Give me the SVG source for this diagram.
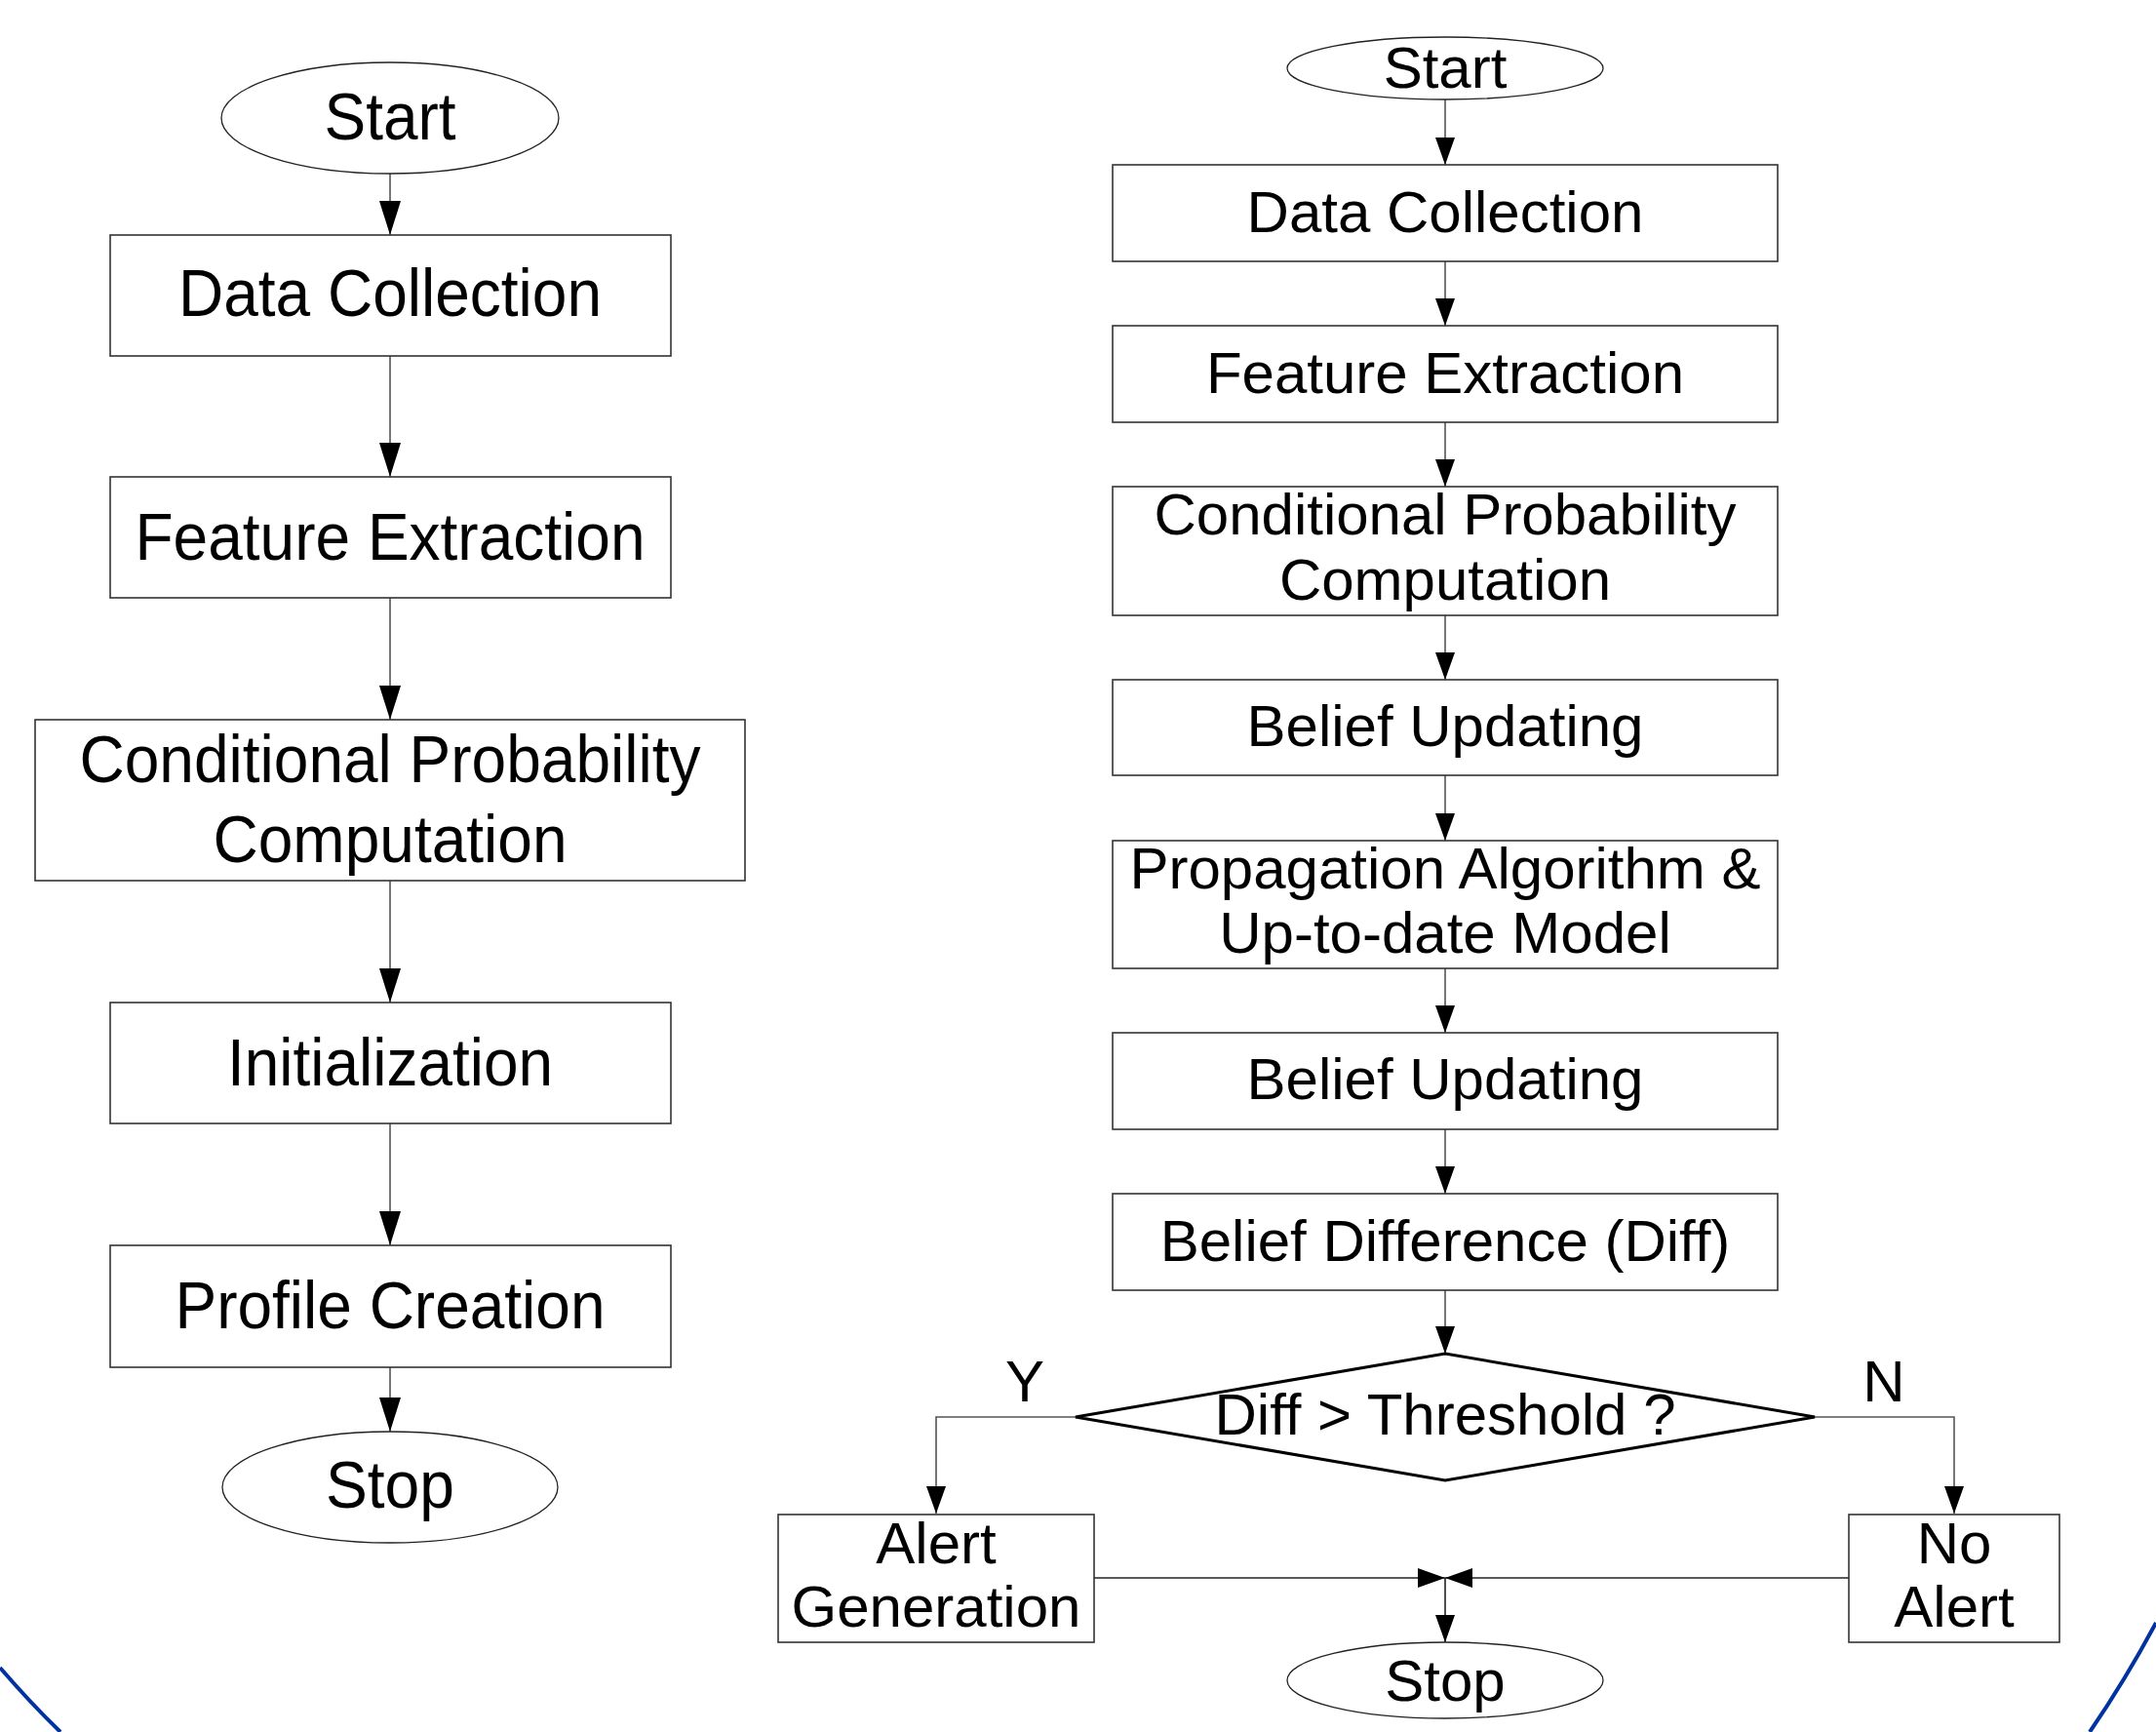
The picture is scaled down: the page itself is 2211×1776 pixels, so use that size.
<svg xmlns="http://www.w3.org/2000/svg" width="2211" height="1776" viewBox="0 0 2211 1776">
<style>
.box{fill:#fff;stroke:#333;stroke-width:1.6}
.ell{fill:#fff;stroke:#222;stroke-width:1.3}
.dia{fill:#fff;stroke:#000;stroke-width:3}
.con{fill:none;stroke:#555;stroke-width:1.6}
.conk{fill:none;stroke:#222;stroke-width:1.6}
.tl{font-family:"Liberation Sans",Arial,sans-serif;font-size:68px;fill:#000;text-anchor:middle}
.tr{font-family:"Liberation Sans",Arial,sans-serif;font-size:60px;fill:#000;text-anchor:middle}
.arc{fill:none;stroke:#0033a0;stroke-width:4}
</style>
<defs>
<marker id="aL" markerUnits="userSpaceOnUse" markerWidth="35" markerHeight="22" refX="35" refY="11" orient="auto"><path d="M0,0 L35,11 L0,22 z" fill="#000"/></marker>
<marker id="aR" markerUnits="userSpaceOnUse" markerWidth="28" markerHeight="20" refX="28" refY="10" orient="auto"><path d="M0,0 L28,10 L0,20 z" fill="#000"/></marker>
</defs>
<rect width="2211" height="1776" fill="#fff"/>
<g id="decor">
<path class="arc" d="M0,1710 Q31,1746 62,1776"/>
<path class="arc" d="M2211,1664 Q2180,1722 2143,1776"/>
</g>
<g id="connectors">
<path class="con" d="M400,178 V241" marker-end="url(#aL)"/>
<path class="con" d="M400,365 V489" marker-end="url(#aL)"/>
<path class="con" d="M400,613 V738" marker-end="url(#aL)"/>
<path class="con" d="M400,903 V1028" marker-end="url(#aL)"/>
<path class="con" d="M400,1152 V1277" marker-end="url(#aL)"/>
<path class="con" d="M400,1402 V1468" marker-end="url(#aL)"/>
<path class="con" d="M1482,102 V169" marker-end="url(#aR)"/>
<path class="con" d="M1482,268 V334" marker-end="url(#aR)"/>
<path class="con" d="M1482,433 V499" marker-end="url(#aR)"/>
<path class="con" d="M1482,631 V697" marker-end="url(#aR)"/>
<path class="con" d="M1482,795 V862" marker-end="url(#aR)"/>
<path class="con" d="M1482,993 V1059" marker-end="url(#aR)"/>
<path class="con" d="M1482,1158 V1224" marker-end="url(#aR)"/>
<path class="con" d="M1482,1323 V1388" marker-end="url(#aR)"/>
<path class="con" d="M1103,1453 H960 V1552" marker-end="url(#aR)"/>
<path class="con" d="M1861,1453 H2004 V1552" marker-end="url(#aR)"/>
<path class="conk" d="M1122,1618 H1482" marker-end="url(#aR)"/>
<path class="conk" d="M1896,1618 H1482" marker-end="url(#aR)"/>
<path class="conk" d="M1482,1618 V1684" marker-end="url(#aR)"/>
<text class="tr" x="1051" y="1437">Y</text>
<text class="tr" x="1932" y="1437">N</text>
</g>
<g id="L_start"><ellipse class="ell" cx="400" cy="121" rx="173" ry="57"/><text class="tl" x="400" y="143" textLength="135" lengthAdjust="spacingAndGlyphs">Start</text></g>
<g id="L_data"><rect class="box" x="113" y="241" width="575" height="124"/><text class="tl" x="400" y="324" textLength="434" lengthAdjust="spacingAndGlyphs">Data Collection</text></g>
<g id="L_feature"><rect class="box" x="113" y="489" width="575" height="124"/><text class="tl" x="400" y="574" textLength="523" lengthAdjust="spacingAndGlyphs">Feature Extraction</text></g>
<g id="L_cond"><rect class="box" x="36" y="738" width="728" height="165"/><text class="tl" x="400" y="802" textLength="637" lengthAdjust="spacingAndGlyphs">Conditional Probability</text><text class="tl" x="400" y="884" textLength="363" lengthAdjust="spacingAndGlyphs">Computation</text></g>
<g id="L_init"><rect class="box" x="113" y="1028" width="575" height="124"/><text class="tl" x="400" y="1113" textLength="334" lengthAdjust="spacingAndGlyphs">Initialization</text></g>
<g id="L_profile"><rect class="box" x="113" y="1277" width="575" height="125"/><text class="tl" x="400" y="1362" textLength="441" lengthAdjust="spacingAndGlyphs">Profile Creation</text></g>
<g id="L_stop"><ellipse class="ell" cx="400" cy="1525" rx="172" ry="57"/><text class="tl" x="400" y="1546" textLength="132" lengthAdjust="spacingAndGlyphs">Stop</text></g>
<g id="R_start"><ellipse class="ell" cx="1482" cy="70" rx="162" ry="32"/><text class="tr" x="1482" y="90">Start</text></g>
<g id="R_data"><rect class="box" x="1141" y="169" width="682" height="99"/><text class="tr" x="1482" y="238">Data Collection</text></g>
<g id="R_feature"><rect class="box" x="1141" y="334" width="682" height="99"/><text class="tr" x="1482" y="403">Feature Extraction</text></g>
<g id="R_cond"><rect class="box" x="1141" y="499" width="682" height="132"/><text class="tr" x="1482" y="548">Conditional Probability</text><text class="tr" x="1482" y="615">Computation</text></g>
<g id="R_belief1"><rect class="box" x="1141" y="697" width="682" height="98"/><text class="tr" x="1482" y="765">Belief Updating</text></g>
<g id="R_prop"><rect class="box" x="1141" y="862" width="682" height="131"/><text class="tr" x="1482" y="911">Propagation Algorithm &amp;</text><text class="tr" x="1482" y="977">Up-to-date Model</text></g>
<g id="R_belief2"><rect class="box" x="1141" y="1059" width="682" height="99"/><text class="tr" x="1482" y="1127">Belief Updating</text></g>
<g id="R_diff"><rect class="box" x="1141" y="1224" width="682" height="99"/><text class="tr" x="1482" y="1293">Belief Difference (Diff)</text></g>
<g id="R_decision"><polygon class="dia" points="1482,1388 1861,1453 1482,1518 1103,1453"/><text class="tr" x="1482" y="1471">Diff &gt; Threshold ?</text></g>
<g id="R_alert"><rect class="box" x="798" y="1553" width="324" height="131"/><text class="tr" x="960" y="1603">Alert</text><text class="tr" x="960" y="1668">Generation</text></g>
<g id="R_noalert"><rect class="box" x="1896" y="1553" width="216" height="131"/><text class="tr" x="2004" y="1603">No</text><text class="tr" x="2004" y="1668">Alert</text></g>
<g id="R_stop"><ellipse class="ell" cx="1482" cy="1723" rx="162" ry="39"/><text class="tr" x="1482" y="1744">Stop</text></g>
</svg>
